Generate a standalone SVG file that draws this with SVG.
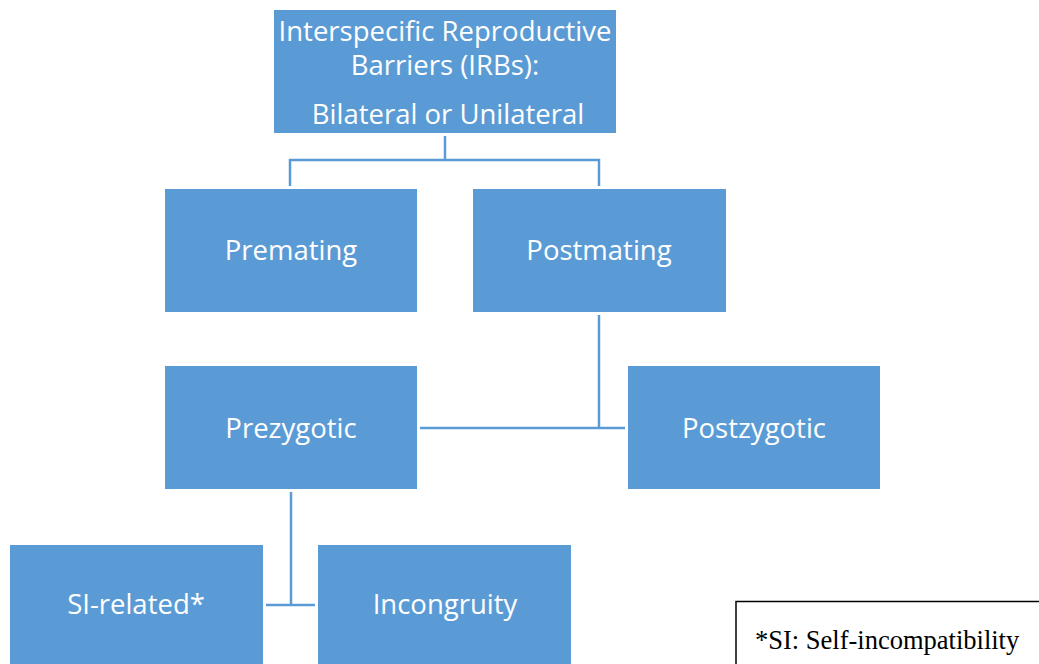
<svg xmlns="http://www.w3.org/2000/svg" width="1039" height="664" viewBox="0 0 1039 664">
<style>
.box{fill:#5B9BD5;}
.t{font-family:"Open Sans","Noto Sans",sans-serif;font-size:27.5px;fill:#ffffff;text-anchor:middle;}
.c{fill:none;stroke:#5B9BD5;stroke-width:2.5;}
.leg{font-family:"Liberation Serif",serif;font-size:26.5px;fill:#000;}
</style>
<rect width="1039" height="664" fill="#ffffff"/>
<g id="connectors">
<path class="c" d="M445 136V160M290 186V160H599V186"/>
<path class="c" d="M599 315V428M420 428H625"/>
<path class="c" d="M291 492V605M266 605H315"/>
</g>
<g id="irb">
<rect class="box" x="274" y="10" width="342" height="123"/>
<text class="t" x="445" y="41">Interspecific Reproductive</text>
<text class="t" x="445" y="75">Barriers (IRBs):</text>
<text class="t" x="448" y="124">Bilateral or Unilateral</text>
</g>
<g id="premating">
<rect class="box" x="165" y="189" width="252" height="123"/>
<text class="t" x="291" y="260">Premating</text>
</g>
<g id="postmating">
<rect class="box" x="473" y="189" width="253" height="123"/>
<text class="t" x="599" y="260">Postmating</text>
</g>
<g id="prezygotic">
<rect class="box" x="165" y="366" width="252" height="123"/>
<text class="t" x="291" y="438">Prezygotic</text>
</g>
<g id="postzygotic">
<rect class="box" x="628" y="366" width="252" height="123"/>
<text class="t" x="754" y="438">Postzygotic</text>
</g>
<g id="si-related">
<rect class="box" x="10" y="545" width="253" height="125"/>
<text class="t" x="136" y="614">SI-related*</text>
</g>
<g id="incongruity">
<rect class="box" x="318" y="545" width="253" height="125"/>
<text class="t" x="445" y="614">Incongruity</text>
</g>
<g id="legend">
<rect x="736" y="601.5" width="310" height="70" fill="#ffffff" stroke="#000" stroke-width="1.5"/>
<text class="leg" x="755" y="649">*SI: Self-incompatibility</text>
</g>
</svg>
